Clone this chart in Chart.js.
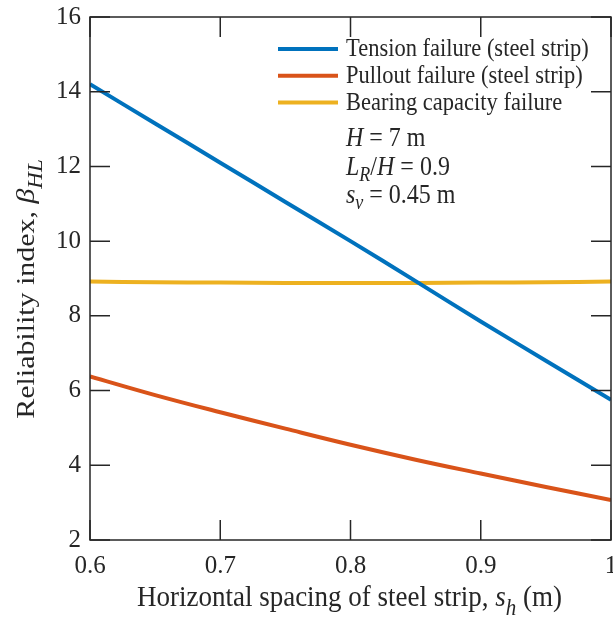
<!DOCTYPE html>
<html>
<head>
<meta charset="utf-8">
<script src="https://cdn.jsdelivr.net/npm/chart.js@4/dist/chart.umd.min.js"></script>
<style>
  html, body { margin: 0; padding: 0; background: #fff; }
  #wrap { width: 613px; height: 619px; }
</style>
</head>
<body>
<div id="wrap"><canvas id="reliabilityChart" width="613" height="619"></canvas></div>
<script>
// horizontal spacing of the strips, s_h (m)
const spacing = [0.6, 0.65, 0.7, 0.75, 0.8, 0.85, 0.9, 0.95, 1.0];

// reliability index per failure mode
const tensionBeta = [14.2, 13.15, 12.1, 11.05, 10.0, 8.93, 7.85, 6.8, 5.75];
const pulloutBeta = [6.38, 5.88, 5.42, 4.98, 4.55, 4.15, 3.78, 3.42, 3.07];
const bearingBeta = [8.92, 8.9, 8.89, 8.88, 8.88, 8.88, 8.89, 8.9, 8.92];

const xTicks = [0.6, 0.7, 0.8, 0.9, 1.0];
const yTicks = [2, 4, 6, 8, 10, 12, 14, 16];

const seriesNames = ["Tension failure (steel strip)", "Pullout failure (steel strip)", "Bearing capacity failure"];
const seriesColors = ["#0072BD", "#D95319", "#EDB120"];

const SERIF = "'Liberation Serif', 'Times New Roman', serif";
const INK = "#262626";
const STRETCH = 1.12; // text in this figure is a bit taller than wide

const toPoints = (ys) => spacing.map((x, i) => ({ x: x, y: ys[i] }));

// frame + inward tick marks on all four sides
const boxAndTicks = {
  id: "boxAndTicks",
  afterDatasetsDraw(chart) {
    const { ctx, chartArea: a, scales } = chart;
    const len = 20;
    ctx.save();
    ctx.strokeStyle = INK;
    ctx.lineWidth = 1.5;
    ctx.strokeRect(a.left, a.top, a.right - a.left, a.bottom - a.top);
    ctx.beginPath();
    xTicks.forEach((v) => {
      const px = scales.x.getPixelForValue(v);
      ctx.moveTo(px, a.bottom); ctx.lineTo(px, a.bottom - len);
      ctx.moveTo(px, a.top); ctx.lineTo(px, a.top + len);
    });
    yTicks.forEach((v) => {
      const py = scales.y.getPixelForValue(v);
      ctx.moveTo(a.left, py); ctx.lineTo(a.left + len, py);
      ctx.moveTo(a.right, py); ctx.lineTo(a.right - len, py);
    });
    ctx.stroke();
    ctx.restore();
  }
};

// text with italic pieces and subscripts, drawn left to right from x
function drawRich(ctx, parts, x, y) {
  parts.forEach((p) => {
    ctx.font = (p.italic ? "italic " : "") + p.size + "px " + SERIF;
    ctx.fillText(p.text, x, y + (p.dy || 0));
    x += ctx.measureText(p.text).width;
  });
  return x;
}
function richWidth(ctx, parts) {
  let w = 0;
  parts.forEach((p) => {
    ctx.font = (p.italic ? "italic " : "") + p.size + "px " + SERIF;
    w += ctx.measureText(p.text).width;
  });
  return w;
}
// same, but stretched vertically around the baseline
function drawTall(ctx, parts, x, y) {
  ctx.save();
  ctx.translate(x, y);
  ctx.scale(1, STRETCH);
  drawRich(ctx, parts, 0, 0);
  ctx.restore();
}

// axis titles, legend and the parameter notes
const annotations = {
  id: "annotations",
  afterDraw(chart) {
    const { ctx, chartArea: a } = chart;
    ctx.save();
    ctx.fillStyle = INK;
    ctx.textBaseline = "alphabetic";

    // x title
    const xt = [
      { text: "Horizontal spacing of steel strip, ", size: 27 },
      { text: "s", size: 27, italic: true },
      { text: "h", size: 21, italic: true, dy: 8 },
      { text: " (m)", size: 27 }
    ];
    const xw = richWidth(ctx, xt);
    drawTall(ctx, xt, (a.left + a.right) / 2 - xw / 2 - 1, 606);

    // y title, rotated; the stretch runs along the text here
    const yt = [
      { text: "Reliability index, ", size: 26 },
      { text: "\u03B2", size: 26, italic: true },
      { text: "HL", size: 20, italic: true, dy: 8 }
    ];
    const yw = richWidth(ctx, yt);
    ctx.save();
    ctx.translate(34, 289);
    ctx.rotate(-Math.PI / 2);
    ctx.scale(1.15, 1);
    drawRich(ctx, yt, -yw / 2, 0);
    ctx.restore();

    // legend
    chart.data.datasets.forEach((ds, i) => {
      const ly = 49 + i * 26.8;
      ctx.strokeStyle = ds.borderColor;
      ctx.lineWidth = 4;
      ctx.beginPath();
      ctx.moveTo(278, ly);
      ctx.lineTo(338, ly);
      ctx.stroke();
      drawTall(ctx, [{ text: ds.label, size: 22.5 }], 346, ly + 7);
    });

    // parameters
    drawTall(ctx, [
      { text: "H", size: 24, italic: true },
      { text: " = 7 m", size: 24 }
    ], 346, 146);
    drawTall(ctx, [
      { text: "L", size: 24, italic: true },
      { text: "R", size: 18, italic: true, dy: 5 },
      { text: "/", size: 24 },
      { text: "H", size: 24, italic: true },
      { text: " = 0.9", size: 24 }
    ], 346, 175);
    drawTall(ctx, [
      { text: "s", size: 24, italic: true },
      { text: "v", size: 18, italic: true, dy: 5 },
      { text: " = 0.45 m", size: 24 }
    ], 346, 203);
    ctx.restore();
  }
};

const ctx = document.getElementById("reliabilityChart").getContext("2d");
new Chart(ctx, {
  type: "line",
  data: {
    datasets: [
      { label: seriesNames[0], data: toPoints(tensionBeta), borderColor: seriesColors[0] },
      { label: seriesNames[1], data: toPoints(pulloutBeta), borderColor: seriesColors[1] },
      { label: seriesNames[2], data: toPoints(bearingBeta), borderColor: seriesColors[2] }
    ].map((d) => Object.assign(d, { borderWidth: 4, pointRadius: 0, tension: 0.4, fill: false }))
  },
  options: {
    responsive: false,
    animation: false,
    events: [],
    layout: { padding: { top: 17, right: 2, left: 0, bottom: 0 } },
    plugins: { legend: { display: false }, tooltip: { enabled: false } },
    scales: {
      x: {
        type: "linear",
        min: 0.6,
        max: 1.0,
        afterFit: (s) => { s.height = 79; s.paddingLeft = 0; s.paddingRight = 0; },
        afterBuildTicks: (s) => { s.ticks = xTicks.map((v) => ({ value: v })); },
        grid: { display: false, drawTicks: false },
        border: { display: false },
        ticks: {
          color: INK,
          padding: 11,
          maxRotation: 0,
          autoSkip: false,
          font: { family: SERIF, size: 25 },
          callback: (v) => (v === 1 ? "1" : v.toFixed(1))
        }
      },
      y: {
        min: 2,
        max: 16,
        afterFit: (s) => { s.width = 90; s.paddingTop = 0; s.paddingBottom = 0; },
        afterBuildTicks: (s) => { s.ticks = yTicks.map((v) => ({ value: v })); },
        grid: { display: false, drawTicks: false },
        border: { display: false },
        ticks: {
          color: INK,
          padding: 9,
          font: { family: SERIF, size: 25 }
        }
      }
    }
  },
  plugins: [boxAndTicks, annotations]
});
</script>
</body>
</html>
